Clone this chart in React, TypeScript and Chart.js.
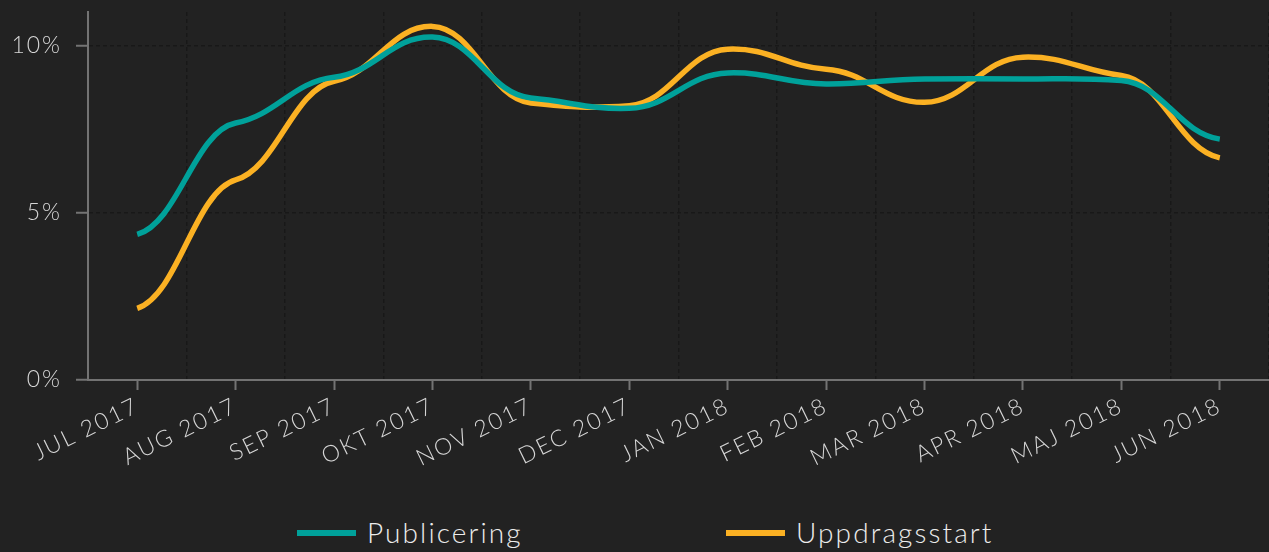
import React, { useEffect, useRef } from "react";
import { Chart, registerables } from "chart.js";

Chart.register(...registerables);

const categories = [
  "JUL 2017", "AUG 2017", "SEP 2017", "OKT 2017", "NOV 2017", "DEC 2017",
  "JAN 2018", "FEB 2018", "MAR 2018", "APR 2018", "MAJ 2018", "JUN 2018",
];
const publicering = [4.35, 7.68, 9.05, 10.25, 8.43, 8.12, 9.18, 8.85, 9.0, 9.0, 8.95, 7.2];
const uppdragsstart = [2.14, 5.98, 8.93, 10.57, 8.28, 8.2, 9.89, 9.29, 8.3, 9.65, 9.1, 6.64];
const yTickValues = [0, 5, 10];

const TEAL = "#00a19a";
const ORANGE = "#fbb123";
const BG = "#222222";
const AXIS = "#737373";
const GRID = "#181818";
const TEXT = "#d6d6d6";
const FONT = "Lato, 'Open Sans', sans-serif";

// Smooth curve with flattened tangents at each point (shape of the original spline)
const ARM = 0.42;
const SLOPE_K = 0.25;

const curvePlugin = {
  id: "flatSpline",
  beforeDatasetDraw(chart: any, args: any) {
    const meta = args.meta;
    const line = meta.dataset;
    if (!line) return;
    line.updateControlPoints(chart.chartArea, "x");
    const pts = meta.data;
    const n = pts.length;
    for (let i = 0; i < n; i++) {
      const p = pts[i];
      const prev = pts[Math.max(0, i - 1)];
      const next = pts[Math.min(n - 1, i + 1)];
      const m = (next.y - prev.y) / (next.x - prev.x || 1);
      const s = m * SLOPE_K;
      if (i > 0) {
        const h = p.x - prev.x;
        p.cp1x = p.x - ARM * h;
        p.cp1y = p.y - s * ARM * h;
      }
      if (i < n - 1) {
        const h = next.x - p.x;
        p.cp2x = p.x + ARM * h;
        p.cp2y = p.y + s * ARM * h;
      }
    }
  },
};

const spacingPlugin = {
  id: "letterSpacing",
  beforeUpdate(chart: any) {
    chart.ctx.letterSpacing = "2px";
  },
  beforeDraw(chart: any) {
    chart.ctx.letterSpacing = "2px";
  },
};

export default function App() {
  const canvasRef = useRef<HTMLCanvasElement | null>(null);

  useEffect(() => {
    if (!canvasRef.current) return;
    const chart = new Chart(canvasRef.current, {
      type: "line",
      data: {
        labels: categories,
        datasets: [
          {
            label: "Publicering",
            data: publicering,
            borderColor: TEAL,
            backgroundColor: TEAL,
            borderWidth: 5.5,
            pointRadius: 0,
            tension: 0.4,
            fill: false,
            xAxisID: "x",
          },
          {
            label: "Uppdragsstart",
            data: uppdragsstart,
            borderColor: ORANGE,
            backgroundColor: ORANGE,
            borderWidth: 5.5,
            pointRadius: 0,
            tension: 0.4,
            fill: false,
            xAxisID: "x",
          },
        ],
      },
      plugins: [spacingPlugin, curvePlugin],
      options: {
        animation: false,
        responsive: true,
        maintainAspectRatio: false,
        layout: { padding: { top: 12, left: 0, right: 0, bottom: 0 } },
        plugins: {
          legend: { display: false },
          tooltip: { enabled: false },
        },
        scales: {
          x: {
            type: "category",
            position: "bottom",
            offset: true,
            grid: {
              offset: false,
              drawOnChartArea: false,
              drawTicks: true,
              tickLength: 10,
              tickColor: AXIS,
              tickWidth: 2,
              color: AXIS,
            },
            border: { display: true, color: AXIS, width: 2 },
            ticks: {
              minRotation: 26,
              maxRotation: 26,
              autoSkip: false,
              padding: 2,
              color: TEXT,
              font: { family: FONT, size: 23, weight: "300" },
            },
            afterFit: (axis: any) => {
              axis.height = 100;
            },
          },
          x2: {
            type: "category",
            position: "bottom",
            offset: true,
            grid: {
              offset: true,
              drawOnChartArea: true,
              drawTicks: false,
              color: GRID,
              lineWidth: 1.5,
              borderDash: [4, 3],
            } as any,
            border: { display: false, dash: [4, 3] },
            ticks: { display: false },
            afterFit: (axis: any) => {
              axis.height = 0;
            },
          },
          y: {
            type: "linear",
            min: 0,
            max: 11,
            ticks: {
              stepSize: 5,
              padding: 14,
              color: TEXT,
              font: { family: FONT, size: 23, weight: "300" },
              callback: (v: any) => `${v}%`,
            },
            afterBuildTicks: (axis: any) => {
              axis.ticks = yTickValues.map((value) => ({ value }));
            },
            grid: {
              color: (ctx: any) => (ctx.tick && ctx.tick.value === 0 ? "rgba(0,0,0,0)" : GRID),
              lineWidth: 1.5,
              tickColor: AXIS,
              tickLength: 12,
              tickWidth: 2,
              borderDash: [4, 3],
            } as any,
            border: { display: true, color: AXIS, width: 2, dash: [4, 3] },
            afterFit: (axis: any) => {
              axis.width = 88;
              axis.paddingTop = 0;
              axis.paddingBottom = 0;
            },
          },
        },
      },
    });
    return () => chart.destroy();
  }, []);

  const legendItem = (left: number, color: string, text: string) => (
    <div
      style={{
        position: "absolute",
        left,
        top: 512,
        height: 40,
        display: "flex",
        alignItems: "center",
      }}
    >
      <div style={{ width: 59, height: 6, background: color, marginRight: 11, marginTop: 2 }} />
      <span
        style={{
          color: "#ececec",
          fontFamily: FONT,
          fontWeight: 300,
          fontSize: 28,
          letterSpacing: "2.1px",
          lineHeight: "40px",
        }}
      >
        {text}
      </span>
    </div>
  );

  return (
    <div
      style={{
        position: "fixed",
        left: 0,
        top: 0,
        width: 1269,
        height: 552,
        background: BG,
        overflow: "hidden",
      }}
    >
      <div style={{ position: "absolute", left: 0, top: 0, width: 1269, height: 480 }}>
        <canvas ref={canvasRef} />
      </div>
      {legendItem(297, TEAL, "Publicering")}
      {legendItem(726, ORANGE, "Uppdragsstart")}
    </div>
  );
}
